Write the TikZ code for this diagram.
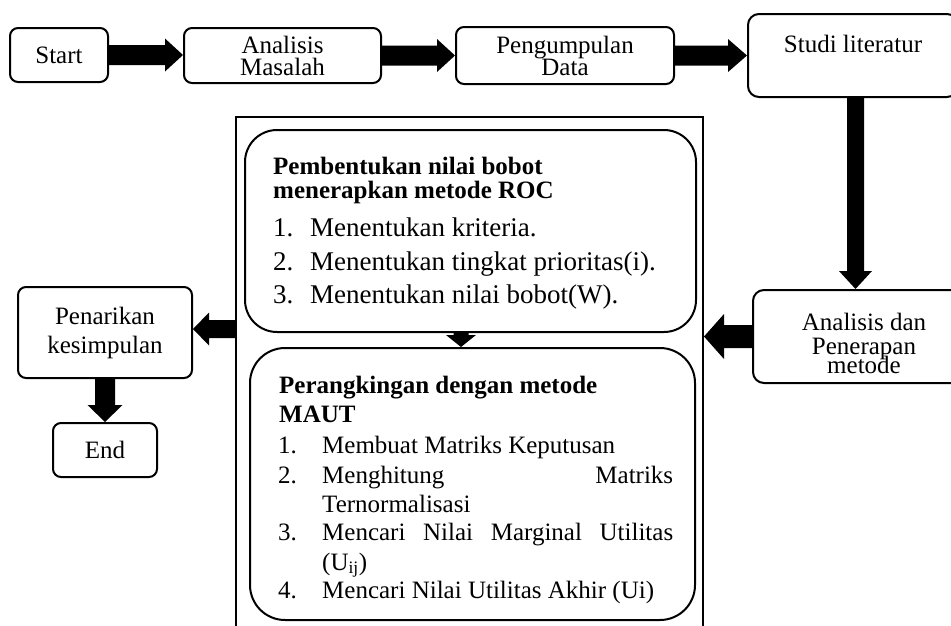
\documentclass[tikz,border=0pt]{standalone}
\usepackage{fontspec}
\setmainfont{Liberation Serif}
\usetikzlibrary{calc}
\newcommand\fsbox{\fontsize{25}{22}\selectfont}
\newcommand\fsroc{\fontsize{27}{30}\selectfont}
\newcommand\fsmaut{\fontsize{25}{29}\selectfont}
% fat block arrow: from, to, shaft half width, head half width, head length
\newcommand\fatarrow[5]{%
  \fill let \p1=(#1), \p2=(#2),
    \n1={veclen(\x2-\x1,\y2-\y1)},
    \n2={(\x2-\x1)/\n1}, \n3={(\y2-\y1)/\n1} in
    ({\x1-\n3*#3},{\y1+\n2*#3}) --
    ({\x2-\n2*#5-\n3*#3},{\y2-\n3*#5+\n2*#3}) --
    ({\x2-\n2*#5-\n3*#4},{\y2-\n3*#5+\n2*#4}) --
    (\p2) --
    ({\x2-\n2*#5+\n3*#4},{\y2-\n3*#5-\n2*#4}) --
    ({\x2-\n2*#5+\n3*#3},{\y2-\n3*#5-\n2*#3}) --
    ({\x1+\n3*#3},{\y1-\n2*#3}) -- cycle;}
\begin{document}
\begin{tikzpicture}[x=1pt,y=-1pt,
  box/.style={draw, line width=2pt, rounded corners=8pt, align=center, inner sep=0pt, font=\fsbox},
  bigbox/.style={draw, line width=2pt, inner sep=0pt},
  txt/.style={inner sep=0pt, anchor=base west, text height=15pt, text depth=2pt},
  ctxt/.style={inner sep=0pt, anchor=base, font=\fsbox, text height=15pt, text depth=2pt}]
\useasboundingbox (0,0) rectangle (951,625);
\clip (0,0) rectangle (951,625);

% top row
\node[box, minimum width=98pt, minimum height=54pt] (start) at (59,55) {Start};
\node[box, minimum width=197pt, minimum height=55pt] (anal) at (282.5,55.5) {Analisis\\Masalah};
\node[box, minimum width=218pt, minimum height=57pt] (peng) at (565,55.5) {Pengumpulan\\Data};
\node[box, rounded corners=11pt, minimum width=210pt, minimum height=83pt] (studi) at (853,55.5) {};
\node[ctxt] (studiT) at (853,52) {Studi literatur};

% right box
\node[box, rounded corners=11pt, minimum width=222pt, minimum height=93pt] (adp) at (864,336.5) {};
\node[ctxt] (adpT1) at (864,330) {Analisis dan};
\node[ctxt] (adpT2) at (864,354) {Penerapan};
\node[ctxt] (adpT3) at (864,373) {metode};

% container and inner boxes
\node[bigbox, minimum width=467pt, minimum height=526pt] (cont) at (469.5,380) {};
\node[bigbox, rounded corners=32pt, minimum width=451pt, minimum height=202pt] (roc) at (470.5,231) {};
\node[bigbox, rounded corners=35pt, minimum width=445pt, minimum height=272pt] (maut) at (472.5,484) {};

% ROC text
\node[txt, font=\fsbox\bfseries] (rocH1) at (273,174) {Pembentukan nilai bobot};
\node[txt, font=\fsbox\bfseries] (rocH2) at (273,198) {menerapkan metode ROC};
\node[txt, font=\fsroc] (r1n) at (273,236) {1.};
\node[txt, font=\fsroc] (r1) at (310,236) {Menentukan kriteria.};
\node[txt, font=\fsroc] (r2n) at (273,270) {2.};
\node[txt, font=\fsroc] (r2) at (310,270) {Menentukan tingkat prioritas(i).};
\node[txt, font=\fsroc] (r3n) at (273,303) {3.};
\node[txt, font=\fsroc] (r3) at (310,303) {Menentukan nilai bobot(W).};

% MAUT text
\node[txt, font=\fsbox\bfseries] (mH1) at (279,393) {Perangkingan dengan metode};
\node[txt, font=\fsbox\bfseries] (mH2) at (279,422) {MAUT};
\node[txt, font=\fsmaut] (m1n) at (278,453) {1.};
\node[txt, font=\fsmaut] (m1) at (322,453) {Membuat Matriks Keputusan};
\node[txt, font=\fsmaut] (m2n) at (278,483) {2.};
\node[txt, font=\fsmaut] (m2) at (322,483) {\makebox[351pt][s]{Menghitung\hfill Matriks}};
\node[txt, font=\fsmaut] (m2b) at (322,512) {Ternormalisasi};
\node[txt, font=\fsmaut] (m3n) at (278,540) {3.};
\node[txt, font=\fsmaut] (m3) at (322,540) {\makebox[351pt][s]{Mencari\hfill Nilai\hfill Marginal\hfill Utilitas}};
\node[txt, font=\fsmaut] (m3b) at (322,570) {(U\textsubscript{ij})};
\node[txt, font=\fsmaut] (m4n) at (278,598) {4.};
\node[txt, font=\fsmaut] (m4) at (322,598) {Mencari Nilai Utilitas Akhir (Ui)};

% left boxes
\node[box, font=\fontsize{25}{29}\selectfont, minimum width=174pt, minimum height=91pt] (pen) at (105,332.5) {Penarikan\\kesimpulan};
\node[box, minimum width=104pt, minimum height=54pt] (endn) at (105,450) {End};

% arrows
\fatarrow{start.east}{anal.west |- start.east}{10}{16.5}{18}
\fatarrow{anal.east}{peng.west |- anal.east}{10}{16.5}{18}
\fatarrow{peng.east}{studi.west |- peng.east}{10}{16.5}{19}
\coordinate (a4s) at ($(studi.south)+(2.5,0)$);
\fatarrow{a4s}{a4s |- adp.north}{8.5}{16.5}{18}
\fatarrow{adp.west}{cont.east |- adp.west}{11.5}{22.5}{20}
\coordinate (a6s) at ($(roc.south)+(-9.5,0)$);
\fatarrow{a6s}{a6s |- maut.north}{7.5}{15}{12}
\coordinate (a7s) at ($(cont.west |- pen.east)+(0,-3.5)$);
\fatarrow{a7s}{pen.east |- a7s}{9}{16.5}{16}
\fatarrow{pen.south}{endn.north}{10}{17.5}{17}
\end{tikzpicture}
\end{document}
